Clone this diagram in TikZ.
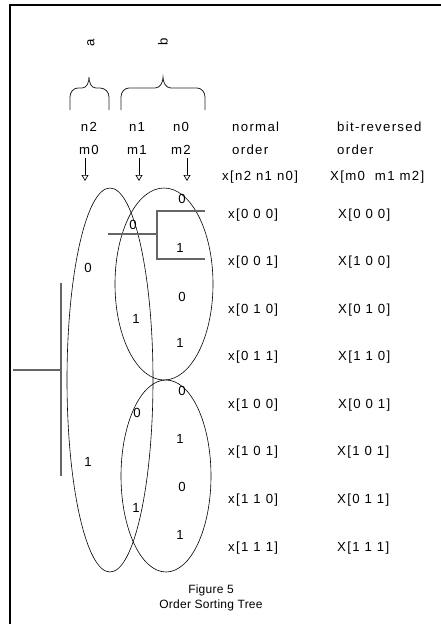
\documentclass[tikz,border=0pt]{standalone}
\usepackage{fontspec}
\setmainfont{Liberation Sans}[LetterSpace=10]
\newfontfamily\capfont{Liberation Sans}[LetterSpace=2]
\usetikzlibrary{arrows.meta}
\begin{document}
\begin{tikzpicture}[x=1pt,y=-1pt,
  lbl/.style={inner sep=0pt, anchor=base, font=\fontsize{13.2}{15}\selectfont},
  lblw/.style={lbl, anchor=base west},
  dig/.style={inner sep=0pt, font=\fontsize{13.2}{15}\selectfont},
  caption/.style={inner sep=0pt, anchor=base, font=\capfont\fontsize{12}{14}\selectfont},
  oval/.style={draw=black, line width=0.6pt},
  branch/.style={draw=black!60, line width=1.2pt},
  frameline/.style={line width=2pt},
  bracepath/.style={line width=0.8pt, draw=black!85},
  downarrow/.style={line width=0.7pt, -{Triangle[open,length=6pt,width=7pt]}}
]
\useasboundingbox (0,0) rectangle (441,624);
% frame (top and left)
\coordinate (fb) at (9.5,624);
\coordinate (fc) at (9.5,5);
\coordinate (fr) at (441,5);
\draw[frameline] (fb) -- (fc) -- (fr);

% rotated group labels
\node[lbl, anchor=center, rotate=90] (la) at (91,43) {a};
\node[lbl, anchor=center, rotate=90] (lb) at (163,42) {b};

% braces
\draw[bracepath] (70,110) -- (70,97) to[out=90,in=180] (78,88) -- (82,88)
  to[out=0,in=-90] (89,77) to[out=-90,in=180] (96,88) -- (100,88)
  to[out=0,in=90] (109,97) -- (109,110);
\draw[bracepath] (121,110) -- (121,97) to[out=90,in=180] (129,88) -- (155,88)
  to[out=0,in=-90] (163,77) to[out=-90,in=180] (171,88) -- (197,88)
  to[out=0,in=90] (205,97) -- (205,110);

% header labels
\node[lbl] (n2) at (89,131) {n2};
\node[lbl] (n1) at (137,131) {n1};
\node[lbl] (n0) at (181,131) {n0};
\node[lbl] (m0) at (89,154) {m0};
\node[lbl] (m1) at (137,154) {m1};
\node[lbl] (m2) at (181,154) {m2};
\node[lblw] (normal) at (232,131) {normal};
\node[lblw] (order1) at (232,154) {order};
\node[lblw] (bitrev) at (337,131) {bit-reversed};
\node[lblw] (order2) at (337,154) {order};

% arrows
\coordinate (a0s) at (85,158); \coordinate (a0e) at (85,181);
\coordinate (a1s) at (139,158); \coordinate (a1e) at (139,181);
\coordinate (a2s) at (187,158); \coordinate (a2e) at (187,181);
\draw[downarrow] (a0s) -- (a0e);
\draw[downarrow] (a1s) -- (a1e);
\draw[downarrow] (a2s) -- (a2e);

% column headers and rows
\node[lblw] (xh) at (222,180) {x[n2 n1 n0]};
\node[lblw] (Xh) at (330,180) {X[m0\ \ m1 m2]};
\node[lblw] (x0) at (228,218) {x[0 0 0]};
\node[lblw] (x1) at (228,265) {x[0 0 1]};
\node[lblw] (x2) at (228,313) {x[0 1 0]};
\node[lblw] (x3) at (228,360) {x[0 1 1]};
\node[lblw] (x4) at (228,408) {x[1 0 0]};
\node[lblw] (x5) at (228,455) {x[1 0 1]};
\node[lblw] (x6) at (228,503) {x[1 1 0]};
\node[lblw] (x7) at (228,551) {x[1 1 1]};
\node[lblw] (X0) at (338,218) {X[0 0 0]};
\node[lblw] (X1) at (338,265) {X[1 0 0]};
\node[lblw] (X2) at (338,313) {X[0 1 0]};
\node[lblw] (X3) at (338,360) {X[1 1 0]};
\node[lblw] (X4) at (338,408) {X[0 0 1]};
\node[lblw] (X5) at (337,455) {X[1 0 1]};
\node[lblw] (X6) at (337,503) {X[0 1 1]};
\node[lblw] (X7) at (337,551) {X[1 1 1]};

% ellipses
\draw[oval] (110,380) ellipse [x radius=43, y radius=192];
\draw[oval] (164,284) ellipse [x radius=49, y radius=96];
\draw[oval] (166,476) ellipse [x radius=45, y radius=96];

% branch lines
\coordinate (ub1) at (157,211); \coordinate (ub2) at (157,259);
\coordinate (ubt) at (205,211); \coordinate (ubb) at (205,259);
\coordinate (ubm) at (157,234); \coordinate (ubl) at (108,234);
\draw[branch] (ubt) -- (ub1) -- (ub2) -- (ubb);
\draw[branch] (ubl) -- (ubm);
\coordinate (lv1) at (61,283); \coordinate (lv2) at (61,476);
\coordinate (lhm) at (61,370); \coordinate (lhl) at (13,370);
\draw[branch] (lv1) -- (lv2);
\draw[branch] (lhl) -- (lhm);

% tree digits
\node[dig] (d20) at (88,268) {0};
\node[dig] (d21) at (88,462) {1};
\node[dig] (d10) at (133,225) {0};
\node[dig] (d11) at (136,319) {1};
\node[dig] (d12) at (137,413) {0};
\node[dig] (d13) at (136,508) {1};
\node[dig] (d00) at (182,199) {0};
\node[dig] (d01) at (180,248) {1};
\node[dig] (d02) at (182,297) {0};
\node[dig] (d03) at (180,343) {1};
\node[dig] (d04) at (182,391) {0};
\node[dig] (d05) at (180,439) {1};
\node[dig] (d06) at (182,487) {0};
\node[dig] (d07) at (180,535) {1};

% caption
\node[caption] (fig) at (211,593) {Figure 5};
\node[caption] (cap) at (211,608) {Order Sorting Tree};
\end{tikzpicture}
\end{document}
